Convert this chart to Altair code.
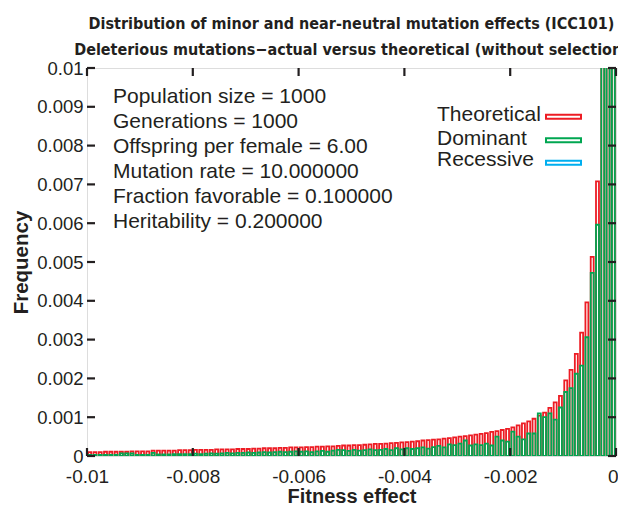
import altair as alt
import pandas as pd

# ---------------- data (frequencies in units of 1e-3) ----------------
BIN_WIDTH = 0.0001
bin_starts = [round(-0.01 + i * BIN_WIDTH, 6) for i in range(100)]

theoretical = [
    0.10, 0.10, 0.10, 0.11, 0.11, 0.11, 0.11, 0.11, 0.12, 0.12,
    0.12, 0.12, 0.14, 0.14, 0.14, 0.14, 0.14, 0.15, 0.15, 0.15,
    0.16, 0.16, 0.16, 0.16, 0.17, 0.17, 0.17, 0.17, 0.18, 0.18,
    0.18, 0.19, 0.19, 0.20, 0.20, 0.20, 0.21, 0.21, 0.22, 0.22,
    0.22, 0.23, 0.23, 0.24, 0.24, 0.25, 0.25, 0.26, 0.27, 0.27,
    0.28, 0.28, 0.29, 0.30, 0.31, 0.31, 0.32, 0.33, 0.34, 0.35,
    0.36, 0.37, 0.38, 0.40, 0.41, 0.42, 0.43, 0.45, 0.46, 0.48,
    0.50, 0.51, 0.53, 0.55, 0.57, 0.59, 0.62, 0.64, 0.67, 0.70,
    0.74, 0.79, 0.84, 0.89, 0.96, 1.04, 1.12, 1.24, 1.38, 1.55,
    1.95, 2.22, 2.63, 3.18, 3.96, 5.13, 7.08, 11.5, 18.0, 30.0,
]

dominant = [
    0.03, 0.03, 0.03, 0.03, 0.03, 0.03, 0.07, 0.07, 0.07, 0.03,
    0.03, 0.03, 0.08, 0.04, 0.04, 0.04, 0.05, 0.05, 0.05, 0.05,
    0.06, 0.05, 0.06, 0.07, 0.06, 0.07, 0.08, 0.07, 0.08, 0.08,
    0.09, 0.08, 0.09, 0.10, 0.09, 0.10, 0.11, 0.10, 0.11, 0.12,
    0.11, 0.12, 0.10, 0.12, 0.13, 0.11, 0.14, 0.16, 0.15, 0.13,
    0.16, 0.14, 0.15, 0.17, 0.15, 0.16, 0.18, 0.15, 0.20, 0.17,
    0.20, 0.18, 0.20, 0.22, 0.19, 0.23, 0.26, 0.22, 0.30, 0.28,
    0.32, 0.40, 0.27, 0.30, 0.28, 0.32, 0.27, 0.50, 0.40, 0.37,
    0.63, 0.50, 0.43, 0.58, 0.58, 1.10, 1.00, 1.10, 0.94, 1.25,
    1.65, 1.75, 2.12, 2.33, 3.06, 4.72, 5.96, 12.0, 20.0, 30.0,
]

series_names = ["Theoretical", "Dominant", "Recessive"]
series_colors = ["#ED1C24", "#00A651", "#00AEEF"]

x_tick_values = [-0.01, -0.008, -0.006, -0.004, -0.002, 0.0]
x_tick_labels = ["-0.01", "-0.008", "-0.006", "-0.004", "-0.002", "0"]
y_tick_values = [0.0, 0.001, 0.002, 0.003, 0.004, 0.005, 0.006, 0.007, 0.008, 0.009, 0.01]
y_tick_labels = ["0", "0.001", "0.002", "0.003", "0.004", "0.005", "0.006",
                 "0.007", "0.008", "0.009", "0.01"]

info_lines = [
    "Population size = 1000",
    "Generations = 1000",
    "Offspring per female = 6.00",
    "Mutation rate = 10.000000",
    "Fraction favorable = 0.100000",
    "Heritability = 0.200000",
]

title_lines = [
    "Distribution of minor and near-neutral mutation effects (ICC101)",
    "Deleterious mutations\u2212actual versus theoretical (without selection)",
]

# ---------------- styling ----------------
W, H = 529, 388
INK = "#231f20"
FONT = "Liberation Sans, Arial, Helvetica, sans-serif"
TITLE_FONT = "Liberation Sans Narrow, DejaVu Sans Condensed, Liberation Sans, sans-serif"
INSET = 0.000022
BAR_STROKE = 1.8

xscale = alt.Scale(domain=[-0.01, 0.0], nice=False, zero=False)
yscale = alt.Scale(domain=[0.0, 0.01], nice=False, zero=True)


def bars_df(vals):
    return pd.DataFrame({
        "lo": [s + INSET for s in bin_starts],
        "hi": [s + BIN_WIDTH - INSET for s in bin_starts],
        "freq": [v * 1e-3 for v in vals],
        "base": [0.0] * len(vals),
    })


x_label_expr = "[" + ",".join("'%s'" % t for t in x_tick_labels) + "][round((datum.value + 0.01) / 0.002)]"
y_label_expr = "[" + ",".join("'%s'" % t for t in y_tick_labels) + "][round(datum.value / 0.001)]"

x_axis = alt.Axis(
    values=x_tick_values, labelExpr=x_label_expr, title="Fitness effect",
    grid=False, ticks=False, domain=False, labelFont=FONT, labelFontSize=19,
    labelColor=INK, labelPadding=11, titleFont=FONT, titleFontSize=20,
    titleFontWeight="bold", titleColor=INK, titlePadding=0, labelFlush=False,
    labelOverlap=False,
    labelAlign={"condition": {"test": "datum.value === 0", "value": "right"}, "value": "center"},
    labelOffset={"condition": {"test": "datum.value === 0", "value": 2}, "value": 0},
)
y_axis = alt.Axis(
    values=y_tick_values, labelExpr=y_label_expr, title="Frequency",
    grid=False, ticks=False, domain=False, labelFont=FONT, labelFontSize=18.5,
    labelColor=INK, labelPadding=4, titleFont=FONT, titleFontSize=20.5,
    titleFontWeight="bold", titleColor=INK, titlePadding=5, labelFlush=False,
    labelOverlap=False,
)

theo = alt.Chart(bars_df(theoretical)).mark_rect(
    fill="white", fillOpacity=0, stroke=series_colors[0], strokeWidth=BAR_STROKE, clip=True
).encode(
    x=alt.X("lo:Q", scale=xscale, axis=x_axis),
    x2="hi:Q",
    y=alt.Y("freq:Q", scale=yscale, axis=y_axis),
    y2="base:Q",
)

dom = alt.Chart(bars_df(dominant)).mark_rect(
    fill="white", fillOpacity=0, stroke=series_colors[1], strokeWidth=BAR_STROKE, clip=True
).encode(
    x=alt.X("lo:Q", scale=xscale, axis=x_axis),
    x2="hi:Q",
    y=alt.Y("freq:Q", scale=yscale, axis=y_axis),
    y2="base:Q",
)

# inward, mirrored ticks
xt = pd.DataFrame({"lo": x_tick_values})
yt = pd.DataFrame({"freq": y_tick_values})
TICK = 8
tick_layers = [
    alt.Chart(xt).mark_rule(color=INK, strokeWidth=2.2).encode(
        x=alt.X("lo:Q", scale=xscale, axis=x_axis), y=alt.value(H), y2=alt.value(H - TICK)),
    alt.Chart(xt).mark_rule(color=INK, strokeWidth=2.2).encode(
        x=alt.X("lo:Q", scale=xscale, axis=x_axis), y=alt.value(0), y2=alt.value(TICK)),
    alt.Chart(yt).mark_rule(color=INK, strokeWidth=2.2).encode(
        y=alt.Y("freq:Q", scale=yscale, axis=y_axis), x=alt.value(0), x2=alt.value(TICK)),
    alt.Chart(yt).mark_rule(color=INK, strokeWidth=2.2).encode(
        y=alt.Y("freq:Q", scale=yscale, axis=y_axis), x=alt.value(W), x2=alt.value(W - TICK)),
]

# info text block
info = alt.Chart(pd.DataFrame({"k": [0]})).mark_text(
    align="left", baseline="middle", font=FONT, fontSize=21, color=INK, lineHeight=25
).encode(x=alt.value(26), y=alt.value(28.5), text=alt.value(info_lines))

# manual legend (label left, outlined sample right)
legend_layers = []
text_y = [46.5, 70.5, 91.5]
sample_y = [48.7, 72.3, 94.7]
for name, col, ty, sy in zip(series_names, series_colors, text_y, sample_y):
    legend_layers.append(
        alt.Chart(pd.DataFrame({"k": [0]})).mark_text(
            align="left", baseline="middle", font=FONT, fontSize=21, color=INK
        ).encode(x=alt.value(350), y=alt.value(ty), text=alt.value(name))
    )
    legend_layers.append(
        alt.Chart(pd.DataFrame({"k": [0]})).mark_rect(
            fill="white", stroke=col, strokeWidth=2
        ).encode(x=alt.value(459), x2=alt.value(494), y=alt.value(sy - 2), y2=alt.value(sy + 2))
    )

chart = alt.layer(theo, dom, *tick_layers, info, *legend_layers).properties(
    width=W,
    height=H,
    autosize=alt.AutoSizeParams(type="none"),
    padding={"left": 79, "top": 60, "right": 2, "bottom": 51},
    title=alt.TitleParams(
        text=title_lines, font=TITLE_FONT, fontSize=16, fontWeight="bold",
        color=INK, anchor="middle", offset=1, lineHeight=26,
    ),
).configure_view(stroke=INK, strokeWidth=2.6).configure(background="white")

chart.save("out.html", embed_options={"renderer": "svg", "actions": False})
